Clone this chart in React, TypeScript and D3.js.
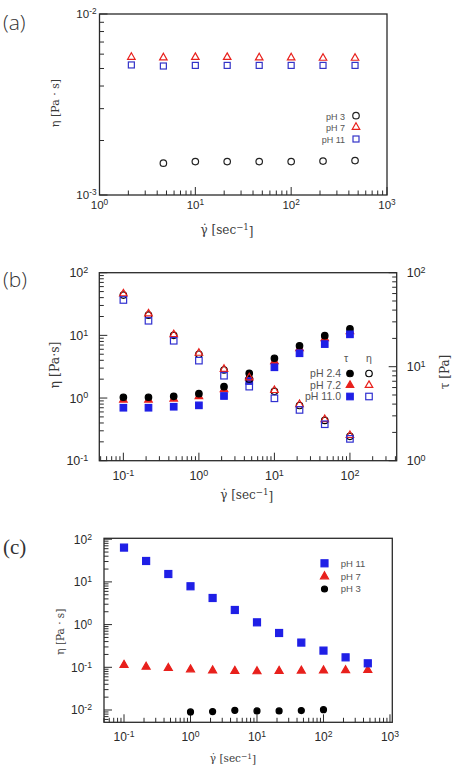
import { useEffect, useRef } from 'react';
import * as d3 from 'd3';

// (a) viscosity, low-concentration samples
const rateA = [2.15, 4.64, 10, 21.5, 46.4, 100, 215, 464];
const rateA3 = [4.64, 10, 21.5, 46.4, 100, 215, 464];
const etaA_pH3 = [1.5e-3, 1.53e-3, 1.53e-3, 1.53e-3, 1.53e-3, 1.54e-3, 1.55e-3];
const etaA_pH7 = [5.81e-3, 5.77e-3, 5.8e-3, 5.8e-3, 5.77e-3, 5.77e-3, 5.74e-3, 5.74e-3];
const etaA_pH11 = [5.23e-3, 5.16e-3, 5.2e-3, 5.2e-3, 5.2e-3, 5.2e-3, 5.2e-3, 5.2e-3];

// (b) viscosity (left) and shear stress (right)
const rateB = [0.1, 0.215, 0.464, 1, 2.15, 4.64, 10, 21.5, 46.4, 100];
const etaB_pH24 = [44, 21, 10, 5.0, 2.8, 2.0, 1.28, 0.76, 0.44, 0.245];
const etaB_pH72 = [46.9, 22.5, 10.5, 5.3, 2.94, 2.15, 1.35, 0.805, 0.464, 0.258];
const etaB_pH110 = [36.7, 17.1, 8.2, 3.95, 2.27, 1.52, 0.99, 0.646, 0.382, 0.223];
const tauB_pH24 = [4.73, 4.73, 4.84, 5.16, 6.13, 8.5, 12.3, 16.7, 21.4, 25.2];
const tauB_pH72 = [4.48, 4.48, 4.59, 4.88, 5.79, 7.96, 11.5, 15.8, 20.2, 24.0];
const tauB_pH110 = [3.66, 3.66, 3.75, 3.88, 4.88, 7.04, 9.86, 13.9, 17.4, 22.1];

// (c) viscosity, high-concentration samples
const rateC = [0.1, 0.215, 0.464, 1, 2.15, 4.64, 10, 21.5, 46.4, 100, 215, 464];
const rateC3 = [1, 2.15, 4.64, 10, 21.5, 46.4, 100];
const etaC_pH11 = [63.6, 30.9, 15.3, 7.9, 4.2, 2.2, 1.13, 0.636, 0.379, 0.246, 0.171, 0.124];
const etaC_pH7 = [0.116, 0.105, 0.098, 0.091, 0.086, 0.084, 0.082, 0.084, 0.085, 0.086, 0.087, 0.088];
const etaC_pH3 = [0.009, 0.0092, 0.0098, 0.0095, 0.0095, 0.0097, 0.0102];

const RED = '#e8201c';
const BLUE = '#1f1fe6';
const INK = '#2a2a2a';
const TICK_FONT = '"Liberation Sans", Arial, sans-serif';
const TITLE_FONT = '"DejaVu Serif", serif';

const isMajor = (v) => Math.abs(Math.log10(v) - Math.round(Math.log10(v))) < 1e-6;

function powerText(sel, v) {
  const e = Math.round(Math.log10(v));
  sel.append('tspan').text('10');
  sel.append('tspan').attr('dy', '-0.45em').attr('font-size', '0.72em').text(String(e));
}

function frame(g, x, y, opts) {
  const [x0, x1] = x.range();
  const [y0, y1] = y.range();
  const size = opts.tickSize;

  g.append('rect')
    .attr('x', x0)
    .attr('y', y1)
    .attr('width', x1 - x0)
    .attr('height', y0 - y1)
    .attr('fill', 'none')
    .attr('stroke', INK)
    .attr('stroke-width', 1.3);

  g.append('g')
    .selectAll('line')
    .data(x.ticks())
    .join('line')
    .attr('x1', (d) => x(d))
    .attr('x2', (d) => x(d))
    .attr('y1', y0)
    .attr('y2', (d) => y0 - (isMajor(d) ? 8 : 4.5))
    .attr('stroke', INK);

  g.append('g')
    .selectAll('line')
    .data(y.ticks())
    .join('line')
    .attr('x1', x0)
    .attr('x2', (d) => x0 + (isMajor(d) ? 8 : 4.5))
    .attr('y1', (d) => y(d))
    .attr('y2', (d) => y(d))
    .attr('stroke', INK);

  g.append('g')
    .selectAll('text')
    .data(x.ticks().filter(isMajor))
    .join('text')
    .attr('x', (d) => x(d))
    .attr('y', y0 + opts.xLabelGap)
    .attr('text-anchor', 'middle')
    .attr('font-family', TICK_FONT)
    .attr('font-size', size)
    .attr('fill', INK)
    .each(function (d) {
      powerText(d3.select(this), d);
    });

  g.append('g')
    .selectAll('text')
    .data(y.ticks().filter(isMajor))
    .join('text')
    .attr('x', x0 - opts.yLabelGap)
    .attr('y', (d) => y(d) + size * 0.36)
    .attr('text-anchor', 'end')
    .attr('font-family', TICK_FONT)
    .attr('font-size', size)
    .attr('fill', INK)
    .each(function (d) {
      powerText(d3.select(this), d);
    });
}

function rightAxis(g, x, y2, size) {
  const x1 = x.range()[1];
  g.append('g')
    .selectAll('line')
    .data(y2.ticks())
    .join('line')
    .attr('x1', x1)
    .attr('x2', (d) => x1 - (isMajor(d) ? 8 : 4.5))
    .attr('y1', (d) => y2(d))
    .attr('y2', (d) => y2(d))
    .attr('stroke', INK);

  g.append('g')
    .selectAll('text')
    .data(y2.ticks().filter(isMajor))
    .join('text')
    .attr('x', x1 + 10)
    .attr('y', (d) => y2(d) + size * 0.36)
    .attr('font-family', TICK_FONT)
    .attr('font-size', size)
    .attr('fill', INK)
    .each(function (d) {
      powerText(d3.select(this), d);
    });
}

function marker(g, shape, cx, cy, color, filled, s) {
  const fill = filled ? color : 'none';
  if (shape === 'circle') {
    g.append('circle').attr('cx', cx).attr('cy', cy).attr('r', s / 2)
      .attr('fill', fill).attr('stroke', color).attr('stroke-width', 1.2);
  } else if (shape === 'square') {
    g.append('rect').attr('x', cx - s / 2).attr('y', cy - s / 2).attr('width', s).attr('height', s)
      .attr('fill', fill).attr('stroke', color).attr('stroke-width', 1.2);
  } else {
    const h = s * 0.87;
    g.append('path')
      .attr('d', `M${cx},${cy - h * 0.6}L${cx + s / 2},${cy + h * 0.4}L${cx - s / 2},${cy + h * 0.4}Z`)
      .attr('fill', fill).attr('stroke', color).attr('stroke-width', 1.2);
  }
}

function series(g, x, y, rates, values, shape, color, filled, s) {
  rates.forEach((r, i) => marker(g, shape, x(r), y(values[i]), color, filled, s));
}

function title(g, text, cx, cy, size, rotate) {
  return g.append('text')
    .attr('transform', `translate(${cx},${cy})${rotate ? ' rotate(-90)' : ''}`)
    .attr('text-anchor', 'middle')
    .attr('dy', '0.35em')
    .attr('font-family', TITLE_FONT)
    .attr('font-size', size)
    .attr('fill', '#3a3a3a')
    .text(text);
}

function rateTitle(g, cx, cy, size) {
  const t = title(g, '', cx, cy, size, false);
  t.append('tspan').text('γ\u0307 [sec');
  t.append('tspan').attr('dy', '-0.45em').attr('font-size', '0.72em').text('−1');
  t.append('tspan').attr('dy', '0.45em').text(']');
}

function legendText(g, text, x, y, size, anchor) {
  g.append('text')
    .attr('x', x)
    .attr('y', y + size * 0.36)
    .attr('text-anchor', anchor)
    .attr('font-family', TICK_FONT)
    .attr('font-size', size)
    .attr('fill', '#555')
    .text(text);
}

function panelLabel(g, text, y, font) {
  g.append('text')
    .attr('x', 3)
    .attr('y', y)
    .attr('font-family', font)
    .attr('font-weight', 300)
    .attr('font-size', 21)
    .attr('fill', '#333')
    .text(text);
}

export default function App() {
  const ref = useRef(null);

  useEffect(() => {
    const svg = d3.select(ref.current);
    svg.selectAll('*').remove();
    const root = svg.append('g');

    // ---- (a)
    const xa = d3.scaleLog().domain([1, 1000]).range([99.5, 387]);
    const ya = d3.scaleLog().domain([1e-3, 1e-2]).range([195, 14]);
    const ga = root.append('g');
    frame(ga, xa, ya, { tickSize: 11.5, xLabelGap: 14, yLabelGap: 3 });
    series(ga, xa, ya, rateA3, etaA_pH3, 'circle', '#222', false, 6.5);
    series(ga, xa, ya, rateA, etaA_pH7, 'triangle', RED, false, 7.5);
    series(ga, xa, ya, rateA, etaA_pH11, 'square', '#3333c8', false, 6);
    legendText(ga, 'pH 3', 345, 117, 9, 'end');
    legendText(ga, 'pH 7', 345, 128, 9, 'end');
    legendText(ga, 'pH 11', 345, 139.5, 9, 'end');
    marker(ga, 'circle', 356, 115.7, '#222', false, 6.5);
    marker(ga, 'triangle', 356, 126.7, RED, false, 7.5);
    marker(ga, 'square', 356, 139, '#3333c8', false, 6);
    title(ga, 'η [Pa · s]', 55, 103, 11, true);
    rateTitle(ga, 227, 230, 12);
    panelLabel(ga, '(a)', 30, '"Open Sans", sans-serif');

    // ---- (b)
    const xb = d3.scaleLog().domain([0.048, 416]).range([99.3, 396.7]);
    const yb = d3.scaleLog().domain([0.1, 100]).range([460.7, 272.7]);
    const yb2 = d3.scaleLog().domain([1, 100]).range([460.7, 272.7]);
    const gb = root.append('g');
    frame(gb, xb, yb, { tickSize: 12.5, xLabelGap: 19, yLabelGap: 11 });
    rightAxis(gb, xb, yb2, 12.5);
    series(gb, xb, yb2, rateB, tauB_pH72, 'triangle', RED, true, 7.5);
    series(gb, xb, yb2, rateB, tauB_pH24, 'circle', '#000', true, 6.5);
    series(gb, xb, yb2, rateB, tauB_pH110, 'square', BLUE, true, 6.5);
    series(gb, xb, yb, rateB, etaB_pH24, 'circle', '#000', false, 6.5);
    series(gb, xb, yb, rateB, etaB_pH72, 'triangle', RED, false, 7.5);
    series(gb, xb, yb, rateB, etaB_pH110, 'square', '#3030d0', false, 6.5);
    legendText(gb, 'τ', 346, 358, 10.5, 'middle');
    legendText(gb, 'η', 369, 358, 10.5, 'middle');
    legendText(gb, 'pH 2.4', 341, 373.5, 10.5, 'end');
    legendText(gb, 'pH 7.2', 341, 384.8, 10.5, 'end');
    legendText(gb, 'pH 11.0', 341, 396.5, 10.5, 'end');
    marker(gb, 'circle', 350, 373.5, '#000', true, 6.5);
    marker(gb, 'triangle', 350, 384.8, RED, true, 7.5);
    marker(gb, 'square', 350, 396.5, BLUE, true, 6.5);
    marker(gb, 'circle', 369, 373.5, '#000', false, 6.5);
    marker(gb, 'triangle', 369, 384.8, RED, false, 7.5);
    marker(gb, 'square', 369, 396.5, '#3030d0', false, 6.5);
    title(gb, 'η [Pa·s]', 55, 365, 12.5, true);
    title(gb, 'τ [Pa]', 445, 372, 12, true);
    rateTitle(gb, 246.7, 495, 12);
    panelLabel(gb, '(b)', 287, '"Open Sans", sans-serif');

    // ---- (c)
    const xc = d3.scaleLog().domain([0.05, 1084]).range([104, 392.3]);
    const yc = d3.scaleLog().domain([0.00515, 105]).range([722.3, 538.3]);
    const gc = root.append('g');
    frame(gc, xc, yc, { tickSize: 12, xLabelGap: 19, yLabelGap: 12 });
    series(gc, xc, yc, rateC3, etaC_pH3, 'circle', '#000', true, 6);
    series(gc, xc, yc, rateC, etaC_pH7, 'triangle', RED, true, 8);
    series(gc, xc, yc, rateC, etaC_pH11, 'square', BLUE, true, 7);
    marker(gc, 'square', 324.5, 563.3, BLUE, true, 7);
    marker(gc, 'triangle', 324.5, 576, RED, true, 8);
    marker(gc, 'circle', 324.5, 589, '#000', true, 6);
    legendText(gc, 'pH 11', 340.7, 563.3, 9.5, 'start');
    legendText(gc, 'pH 7', 340.7, 576.5, 9.5, 'start');
    legendText(gc, 'pH 3', 340.7, 589, 9.5, 'start');
    title(gc, 'η [Pa · s]', 60, 631.7, 10.5, true);
    rateTitle(gc, 233, 758.3, 10.5);
    panelLabel(gc, '(c)', 554, '"Liberation Serif", serif');
  }, []);

  return (
    <svg
      ref={ref}
      width={456}
      height={770}
      viewBox="0 0 456 770"
      style={{ position: 'absolute', left: 0, top: 0, background: '#fff' }}
    />
  );
}
